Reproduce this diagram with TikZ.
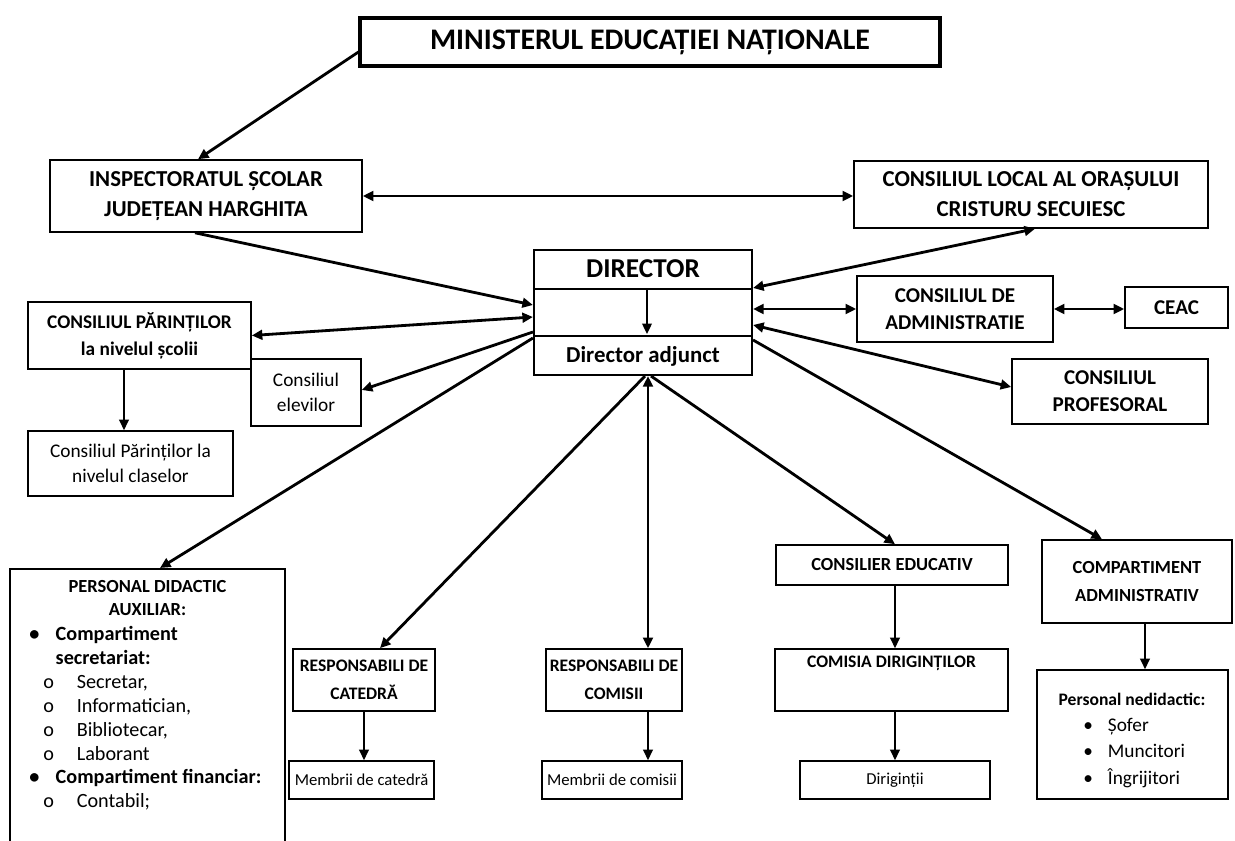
\documentclass[tikz,border=0pt]{standalone}
\usepackage{fontspec}
\setmainfont{Carlito}
\usetikzlibrary{arrows.meta,positioning,calc}

\begin{document}
\begin{tikzpicture}[x=0.02cm,y=-0.02cm,
    >={Triangle[length=6pt,width=5.5pt]},
    blk/.style={draw=black,line width=0.9pt,inner sep=0pt,align=center},
    sz/.style 2 args={minimum width=#1*0.02cm,minimum height=#2*0.02cm},
    hbig/.style={font=\bfseries\fontsize{13}{17}\selectfont},
    hmid/.style={font=\bfseries\fontsize{12}{15.5}\selectfont},
    hsml/.style={font=\bfseries\fontsize{10}{16}\selectfont},
    tnorm/.style={font=\fontsize{11}{14.2}\selectfont},
    tsml/.style={font=\fontsize{9.5}{14}\selectfont},
    lnk/.style={line width=1.6pt},
    fine/.style={line width=1pt}]
  \fill[white] (0,0) rectangle (1235,841);
  \useasboundingbox (0,0) rectangle (1235,841);

  % top level
  \node[blk,line width=1.8pt,sz={580}{48},font=\bfseries\fontsize{17}{20}\selectfont] (min) at (650,42) {MINISTERUL EDUCAȚIEI NAȚIONALE};
  \node[blk,sz={312}{72},hbig] (insp) at (206,196) {INSPECTORATUL ȘCOLAR\\JUDEȚEAN HARGHITA};
  \node[blk,sz={354}{67},hbig] (cl) at (1031,194.5) {CONSILIUL LOCAL AL ORAȘULUI\\CRISTURU SECUIESC};

  % director block
  \node[blk,line width=1.2pt,sz={218}{125}] (dir) at (643,312.5) {};
  \draw[line width=1.2pt] ($(dir.north west)+(0,40)$) -- ($(dir.north east)+(0,40)$);
  \draw[line width=1.2pt] ($(dir.south west)+(0,-40)$) -- ($(dir.south east)+(0,-40)$);
  \node[font=\bfseries\fontsize{15.5}{18}\selectfont] (dirlbl) at ($(dir.north)+(0,20)$) {DIRECTOR};
  \node[font=\bfseries\fontsize{13}{16}\selectfont] (adjlbl) at ($(dir.south)+(0,-20)$) {Director adjunct};
  \draw[fine,->] ($(dir.north)+(4,40)$) -- ($(dir.south)+(4,-42)$);

  % left side
  \node[blk,sz={223}{67},font=\bfseries\fontsize{11}{15.3}\selectfont] (par) at (139.5,335.5) {CONSILIUL PĂRINȚILOR\\la nivelul școlii};
  \node[blk,sz={110}{67},tnorm] (elev) at (306,392.5) {Consiliul\\elevilor};
  \node[blk,sz={205}{65},tnorm] (cls) at (130.5,463.5) {Consiliul Părinților la\\nivelul claselor};
  \node[blk,sz={275}{330},anchor=north] (pda) at (147.5,568) {};
  \node[align=center,font=\bfseries\fontsize{10.5}{13}\selectfont] (pdahd) at (147.5,598) {PERSONAL DIDACTIC\\AUXILIAR:};
  \node[align=left,anchor=north west,inner sep=0pt,font=\fontsize{11.5}{13.6}\selectfont] (pdalist) at (29,626) {%
    \makebox[15pt][l]{\textbf{•}}\textbf{Compartiment}\\
    \hspace*{15pt}\textbf{secretariat:}\\
    \hspace*{8pt}\makebox[19pt][l]{o}Secretar,\\
    \hspace*{8pt}\makebox[19pt][l]{o}Informatician,\\
    \hspace*{8pt}\makebox[19pt][l]{o}Bibliotecar,\\
    \hspace*{8pt}\makebox[19pt][l]{o}Laborant\\
    \makebox[15pt][l]{\textbf{•}}\textbf{Compartiment financiar:}\\
    \hspace*{8pt}\makebox[19pt][l]{o}Contabil;};

  % right side
  \node[blk,sz={196}{66},hmid] (ca) at (955,309) {CONSILIUL DE\\ADMINISTRATIE};
  \node[blk,sz={103}{41},hmid] (ceac) at (1176.5,307.5) {CEAC};
  \node[blk,sz={196}{65},hmid] (prof) at (1110,391.5) {CONSILIUL\\PROFESORAL};

  % lower rows
  \node[blk,sz={232}{40},font=\bfseries\fontsize{10.5}{16}\selectfont] (ce) at (892,565) {CONSILIER EDUCATIV};
  \node[blk,sz={190}{83},font=\bfseries\fontsize{10.5}{16}\selectfont] (comp) at (1137,581.5) {COMPARTIMENT\\ADMINISTRATIV};
  \node[blk,sz={142}{62},hsml] (rcat) at (364,680) {RESPONSABILI DE\\CATEDRĂ};
  \node[blk,sz={136}{62},hsml] (rcom) at (614,680) {RESPONSABILI DE\\COMISII};
  \node[blk,sz={233}{62},hsml] (cdir) at (891.5,680) {COMISIA DIRIGINȚILOR\\\strut};
  \node[blk,sz={145}{38},tsml] (mcat) at (361.5,780) {Membrii de catedră};
  \node[blk,sz={140}{38},tsml] (mcom) at (612,780) {Membrii de comisii};
  \node[blk,sz={190}{38},tsml] (dirig) at (895,780) {Diriginții};
  \node[blk,sz={191}{129}] (pned) at (1132.5,734.5) {};
  \node[font=\bfseries\fontsize{10}{12}\selectfont] (pnedhd) at (1132,699) {Personal nedidactic:};
  \node[align=left,anchor=north west,inner sep=0pt,font=\fontsize{11}{15}\selectfont] (pnedlist) at (1083,718) {%
    \makebox[14pt][l]{•}Șofer\\
    \makebox[14pt][l]{•}Muncitori\\
    \makebox[14pt][l]{•}Îngrijitori};

  % connectors
  \draw[lnk,->] ($(min.west)+(0,10)$) -- ($(insp.north)+(-8,0)$);
  \draw[lnk,<->] (insp.east) -- (insp.east -| cl.west);
  \draw[lnk,->] ($(insp.south)+(-11,0)$) -- ($(dir.west)+(0,-7.5)$);
  \draw[lnk,<->] ($(dir.east)+(0,-24.5)$) -- ($(cl.south)+(4,0)$);
  \draw[lnk,<->] (ca.west -| dir.east) -- (ca.west);
  \draw[lnk,<->] (ca.east) -- (ca.east -| ceac.west);
  \draw[lnk,<->] ($(dir.east)+(0,12.5)$) -- ($(prof.west)+(0,-4.5)$);
  \draw[lnk,->] ($(dir.east)+(0,27.5)$) -- ($(comp.north)+(-35,0)$);

  \draw[lnk,<->] ($(dir.west)+(0,4.5)$) -- (par.east);
  \draw[lnk,->] ($(dir.west)+(0,19.5)$) -- ($(elev.east)+(0,-2.5)$);
  \draw[lnk,->] ($(dir.west)+(0,25.5)$) -- ($(pda.north)+(12.5,0)$);
  \coordinate (pc) at ($(par.south)+(-15.5,0)$);
  \draw[fine,->] (pc) -- (pc |- cls.north);

  \coordinate (dbot) at ($(dir.south)+(5,0)$);
  \draw[lnk,<->] (dbot) -- (dbot |- rcom.north);
  \draw[lnk,->] ($(dir.south)+(2,0)$) -- ($(rcat.north)+(16,0)$);
  \draw[lnk,->] ($(dir.south)+(8,0)$) -- ($(ce.north)+(3,0)$);
  \coordinate (cebot) at ($(ce.south)+(3,0)$);
  \draw[fine,->] (cebot) -- (cebot |- cdir.north);
  \draw[fine,->] (cebot |- cdir.south) -- (cebot |- dirig.north);
  \draw[fine,->] (rcat.south) -- (rcat.south |- mcat.north);
  \draw[fine,->] (dbot |- rcom.south) -- (dbot |- mcom.north);
  \coordinate (cpbot) at ($(comp.south)+(8,0)$);
  \draw[fine,->] (cpbot) -- (cpbot |- pned.north);
\end{tikzpicture}
\end{document}
